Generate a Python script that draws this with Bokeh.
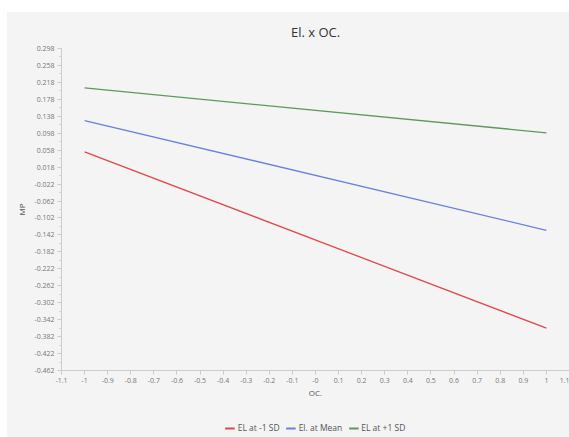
from bokeh.plotting import figure
from bokeh.models import FixedTicker, Legend, LegendItem, Range1d
from bokeh.layouts import column
from bokeh.embed import file_html
from bokeh.resources import INLINE

# data
oc_values = [-1, 1]
el_minus_sd = [0.054, -0.362]
el_mean = [0.128, -0.131]
el_plus_sd = [0.205, 0.099]
series_names = ["EL at -1 SD", "El. at Mean", "EL at +1 SD"]
series_colors = ["#e0474c", "#6b80dc", "#5c9a5c"]

x_tick_labels = ["-1.1", "-1", "-0.9", "-0.8", "-0.7", "-0.6", "-0.5", "-0.4", "-0.3", "-0.2", "-0.1",
                 "-0", "0.1", "0.2", "0.3", "0.4", "0.5", "0.6", "0.7", "0.8", "0.9", "1", "1.1"]
y_tick_labels = ["0.298", "0.258", "0.218", "0.178", "0.138", "0.098", "0.058", "0.018", "-0.022",
                 "-0.062", "-0.102", "-0.142", "-0.182", "-0.222", "-0.262", "-0.302", "-0.342",
                 "-0.382", "-0.422", "-0.462"]

FONT = "Open Sans"
BG = "#f4f4f4"
W = 562

p = figure(width=W, height=388, output_backend="svg", toolbar_location=None,
           x_range=Range1d(-1.1, 1.1), y_range=Range1d(-0.462, 0.298),
           min_border_left=54, min_border_right=0, min_border_top=33, min_border_bottom=29)
p.background_fill_color = BG
p.border_fill_color = BG
p.outline_line_color = None
p.xgrid.visible = False
p.ygrid.visible = False

p.title.text = "El. x OC."
p.title.align = "center"
p.title.text_font = FONT
p.title.text_font_size = "13px"
p.title.text_font_style = "normal"
p.title.text_color = "#333333"
p.title.standoff = 16

xt = [float(s) for s in x_tick_labels]
yt = [float(s) for s in y_tick_labels]
p.xaxis.ticker = FixedTicker(ticks=xt)
p.xaxis.major_label_overrides = {float(s): s for s in x_tick_labels}
yminor = [round(v - 0.02, 3) for v in yt[:-1]]
p.yaxis.ticker = FixedTicker(ticks=yt, minor_ticks=yminor)
p.yaxis.major_label_overrides = {float(s): s for s in y_tick_labels}

for ax in (p.xaxis[0], p.yaxis[0]):
    ax.axis_line_color = "#cccccc"
    ax.major_tick_line_color = "#cccccc"
    ax.minor_tick_line_color = "#cccccc"
    ax.major_tick_out = 4
    ax.major_tick_in = 0
    ax.minor_tick_out = 2
    ax.minor_tick_in = 0
    ax.major_label_text_font = FONT
    ax.major_label_text_font_size = "7px"
    ax.major_label_text_color = "#777777"
    ax.axis_label_text_font = FONT
    ax.axis_label_text_font_size = "8px"
    ax.axis_label_text_font_style = "normal"
    ax.axis_label_text_color = "#555555"
    ax.major_label_standoff = 3

p.xaxis.axis_label = "OC."
p.yaxis.axis_label = "MP"
p.xaxis.axis_label_standoff = 1
p.yaxis.axis_label_standoff = 4

for ys, col in zip([el_minus_sd, el_mean, el_plus_sd], series_colors):
    p.line(oc_values, ys, line_color=col, line_width=1.3)

# legend strip below the chart (its lines lie outside its own view)
leg = figure(width=W, height=37, output_backend="svg", toolbar_location=None,
             x_range=Range1d(10, 11), y_range=Range1d(10, 11),
             min_border_left=0, min_border_right=0, min_border_top=0, min_border_bottom=0)
leg.axis.visible = False
leg.grid.visible = False
leg.outline_line_color = None
leg.background_fill_color = BG
leg.border_fill_color = BG
items = []
for ys, name, col in zip([el_minus_sd, el_mean, el_plus_sd], series_names, series_colors):
    r = leg.line(oc_values, ys, line_color=col, line_width=2)
    items.append(LegendItem(label=name, renderers=[r]))
legend = Legend(items=items, orientation="horizontal", location="bottom_center")
legend.background_fill_alpha = 0
legend.border_line_color = None
legend.label_text_font = FONT
legend.label_text_font_size = "8.5px"
legend.label_text_color = "#555555"
legend.glyph_width = 10
legend.glyph_height = 8
legend.label_standoff = 3
legend.spacing = 6
legend.padding = 2
legend.margin = 4
leg.add_layout(legend)

layout = column(p, leg, spacing=0)
layout.margin = (12, 0, 0, 7)
layout.styles = {"background-color": BG}
open("out.html", "w").write(file_html(layout, INLINE))
